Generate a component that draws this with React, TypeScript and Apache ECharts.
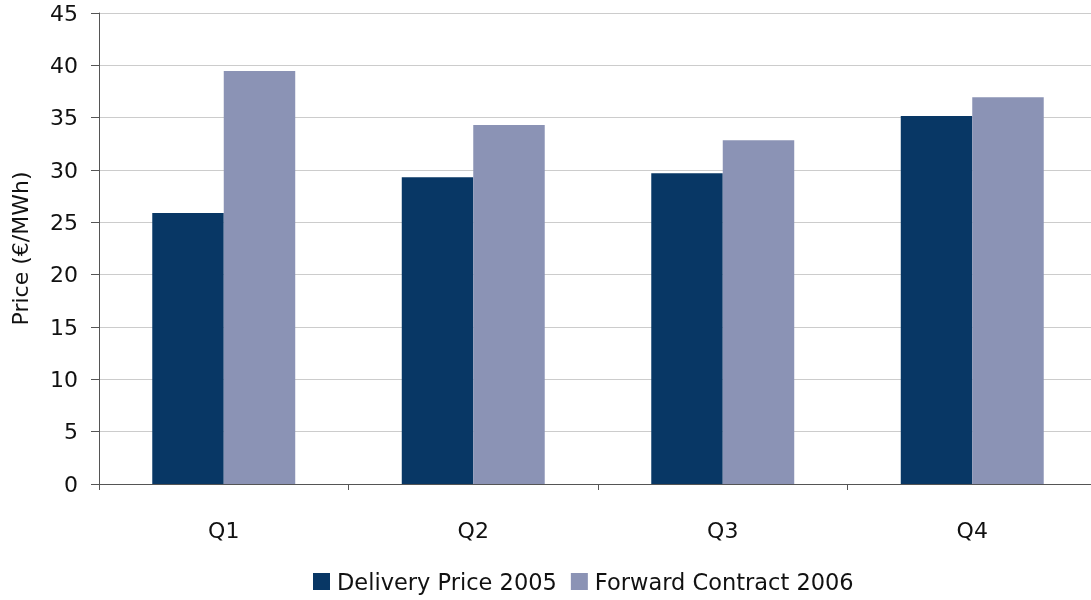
import React, { useEffect, useRef } from "react";
import * as echarts from "echarts";

const categories = ["Q1", "Q2", "Q3", "Q4"];
const deliveryPrice2005 = [25.9, 29.3, 29.7, 35.15];
const forwardContract2006 = [39.45, 34.3, 32.85, 36.95];
const seriesNames = ["Delivery Price 2005", "Forward Contract 2006"];

const FONT = "'DejaVu Sans', Verdana, sans-serif";

export default function App() {
  const ref = useRef<HTMLDivElement>(null);
  useEffect(() => {
    document.body.style.margin = "0";
    document.body.style.overflow = "hidden";
    const chart = echarts.init(ref.current!, null, { renderer: "svg" });
    chart.setOption({
      animation: false,
      textStyle: { fontFamily: FONT },
      grid: { left: 99, top: 13, right: 0, bottom: 116, containLabel: false },
      legend: {
        top: 570,
        left: 313,
        padding: 0,
        itemWidth: 17,
        itemHeight: 17,
        itemGap: 14,
        icon: "rect",
        textStyle: { fontSize: 22.5, color: "#111", fontFamily: FONT, padding: [0, 0, 0, 2] },
        data: seriesNames,
      },
      xAxis: {
        type: "category",
        data: categories,
        axisLine: { lineStyle: { color: "#555", width: 1 } },
        axisTick: { show: true, length: 6, lineStyle: { color: "#555" } },
        axisLabel: { fontSize: 22, color: "#111", margin: 35, fontFamily: FONT },
        splitLine: { show: false },
      },
      yAxis: {
        type: "value",
        min: 0,
        max: 45,
        interval: 5,
        name: "Price (€/MWh)",
        nameLocation: "middle",
        nameGap: 68,
        nameRotate: 90,
        nameTextStyle: { fontSize: 22, color: "#111", fontFamily: FONT },
        axisLine: { show: true, lineStyle: { color: "#555", width: 1 } },
        axisTick: { show: true, length: 8, lineStyle: { color: "#555" } },
        axisLabel: { fontSize: 22, color: "#111", margin: 21, fontFamily: FONT },
        splitLine: { show: true, lineStyle: { color: "#cccccc", width: 1 } },
      },
      series: [
        {
          name: seriesNames[0],
          type: "bar",
          data: deliveryPrice2005,
          itemStyle: { color: "#083765" },
          barGap: "0%",
          barCategoryGap: "42.7%",
        },
        {
          name: seriesNames[1],
          type: "bar",
          data: forwardContract2006,
          itemStyle: { color: "#8B93B5" },
          barGap: "0%",
          barCategoryGap: "42.7%",
        },
      ],
    });
    return () => chart.dispose();
  }, []);
  return <div ref={ref} style={{ position: "fixed", left: 0, top: 0, width: 1097, height: 600 }} />;
}
